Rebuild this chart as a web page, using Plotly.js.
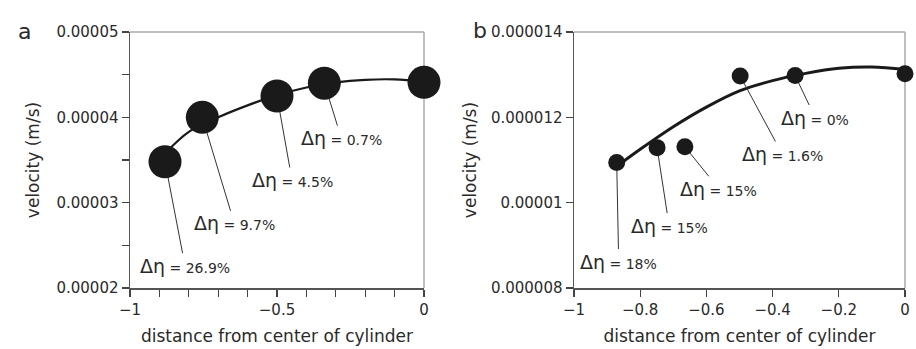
<!DOCTYPE html>
<html>
<head>
<meta charset="utf-8">
<script src="https://cdn.plot.ly/plotly-3.0.1.min.js"></script>
<style>html,body{margin:0;padding:0;background:#fff;}#chart{width:916px;height:349px;}</style>
</head>
<body>
<div id="chart"></div>
<script>
// Panel a data
const aDist = [-0.881, -0.754, -0.5, -0.339, 0];
const aVel = [3.48e-5, 4.00e-5, 4.25e-5, 4.40e-5, 4.41e-5];
const aFitDist = [-0.88, -0.8, -0.7, -0.6, -0.5, -0.4, -0.3, -0.2, -0.1, 0];
const aFitVel = [3.58e-5, 3.83e-5, 4.00e-5, 4.14e-5, 4.26e-5, 4.35e-5, 4.41e-5, 4.44e-5, 4.445e-5, 4.42e-5];
const aLabels = ['26.9%', '9.7%', '4.5%', '0.7%'];

// Panel b data
const bDist = [-0.871, -0.749, -0.665, -0.498, -0.332, 0];
const bVel = [1.094e-5, 1.129e-5, 1.131e-5, 1.297e-5, 1.298e-5, 1.302e-5];
const bFitDist = [-0.876, -0.8, -0.7, -0.6, -0.5, -0.4, -0.3, -0.2, -0.1, 0];
const bFitVel = [1.082e-5, 1.125e-5, 1.178e-5, 1.224e-5, 1.262e-5, 1.286e-5, 1.303e-5, 1.315e-5, 1.318e-5, 1.312e-5];
const bLabels = ['18%', '15%', '15%', '1.6%', '0%'];

const xTitle = 'distance from center of cylinder';
const yTitle = 'velocity (m/s)';

const ink = '#1a1a1a';
const txt = '#2a2a2a';
const fontFam = 'DejaVu Sans, Verdana, sans-serif';

// label offsets (pixels, text centre relative to point)
const aOff = [[20, 104], [32, 106], [15, 84], [17, 55]];
const bOff = [[2, 99], [12, 78], [34, 42], [42, 78], [20, 42]];

function lbl(p) {
  return '<span style="font-size:19px">Δη</span> = ' + p;
}

const traces = [
  {x: aFitDist, y: aFitVel, mode: 'lines', line: {color: ink, width: 2.2, shape: 'spline'}, xaxis: 'x', yaxis: 'y', hoverinfo: 'skip', cliponaxis: false},
  {x: aDist, y: aVel, mode: 'markers', marker: {color: ink, size: 33}, xaxis: 'x', yaxis: 'y', cliponaxis: false},
  {x: bFitDist, y: bFitVel, mode: 'lines', line: {color: ink, width: 3, shape: 'spline'}, xaxis: 'x2', yaxis: 'y2', hoverinfo: 'skip', cliponaxis: false},
  {x: bDist, y: bVel, mode: 'markers', marker: {color: ink, size: 17}, xaxis: 'x2', yaxis: 'y2', cliponaxis: false}
];

const annotations = [];
aLabels.forEach((p, i) => {
  annotations.push({
    x: aDist[i], y: aVel[i], xref: 'x', yref: 'y', text: lbl(p),
    showarrow: true, arrowhead: 0, arrowwidth: 1, arrowcolor: '#333',
    ax: aOff[i][0], ay: aOff[i][1], standoff: 16,
    font: {family: fontFam, size: 14, color: txt}
  });
});
bLabels.forEach((p, i) => {
  annotations.push({
    x: bDist[i], y: bVel[i], xref: 'x2', yref: 'y2', text: lbl(p),
    showarrow: true, arrowhead: 0, arrowwidth: 1, arrowcolor: '#333',
    ax: bOff[i][0], ay: bOff[i][1], standoff: 8,
    font: {family: fontFam, size: 14, color: txt}
  });
});
annotations.push({text: 'a', xref: 'paper', yref: 'paper', x: 16 / 916, y: 1 - 17 / 349, showarrow: false, font: {family: fontFam, size: 22, color: txt}});
annotations.push({text: 'b', xref: 'paper', yref: 'paper', x: 480 / 916, y: 1 - 16 / 349, showarrow: false, font: {family: fontFam, size: 22, color: txt}});

const axCommon = {
  showgrid: false, zeroline: false, showline: true, linecolor: '#555', linewidth: 1.5,
  ticks: 'outside', ticklen: 7, tickwidth: 1.2, tickcolor: '#444',
  tickfont: {family: fontFam, size: 15, color: txt}, fixedrange: true
};
const yDom = [1 - 288 / 349, 1 - 32 / 349];
const titleFont = {family: fontFam, size: 17, color: txt};

const layout = {
  width: 916, height: 349,
  margin: {l: 0, r: 0, t: 0, b: 0},
  paper_bgcolor: '#fff', plot_bgcolor: '#fff',
  showlegend: false,
  xaxis: Object.assign({}, axCommon, {
    domain: [130 / 916, 424 / 916], range: [-1, 0], dtick: 0.5, tick0: 0,
    minor: {dtick: 0.1, ticks: 'outside', ticklen: 7, tickcolor: '#444', tickwidth: 1.2, showgrid: false},
    anchor: 'y', title: {text: xTitle, font: titleFont, standoff: 12}
  }),
  yaxis: Object.assign({}, axCommon, {
    domain: yDom, range: [2e-5, 5e-5], dtick: 1e-5, tick0: 0, tickformat: '.5~f', exponentformat: 'none',
    minor: {dtick: 5e-6, ticks: 'outside', ticklen: 7, tickcolor: '#444', tickwidth: 1.2, showgrid: false},
    anchor: 'x', title: {text: yTitle, font: titleFont, standoff: 12}
  }),
  xaxis2: Object.assign({}, axCommon, {
    domain: [574 / 916, 905 / 916], range: [-1, 0], dtick: 0.2, tick0: 0,
    anchor: 'y2', title: {text: xTitle, font: titleFont, standoff: 12}
  }),
  yaxis2: Object.assign({}, axCommon, {
    domain: yDom, range: [8e-6, 1.4e-5], dtick: 2e-6, tick0: 0, tickformat: '.6~f', exponentformat: 'none',
    anchor: 'x2', title: {text: yTitle, font: titleFont, standoff: 10}
  }),
  shapes: [
    {type: 'line', xref: 'x domain', yref: 'y domain', x0: 0, x1: 1, y0: 1, y1: 1, line: {color: '#aaa', width: 1.5}},
    {type: 'line', xref: 'x domain', yref: 'y domain', x0: 1, x1: 1, y0: 0, y1: 1, line: {color: '#aaa', width: 1.5}, layer: 'below'},
    {type: 'line', xref: 'x2 domain', yref: 'y2 domain', x0: 0, x1: 1, y0: 1, y1: 1, line: {color: '#aaa', width: 1.5}},
    {type: 'line', xref: 'x2 domain', yref: 'y2 domain', x0: 1, x1: 1, y0: 0, y1: 1, line: {color: '#aaa', width: 1.5}, layer: 'below'}
  ],
  annotations: annotations
};

Plotly.newPlot('chart', traces, layout, {displayModeBar: false, staticPlot: true});
</script>
</body>
</html>
